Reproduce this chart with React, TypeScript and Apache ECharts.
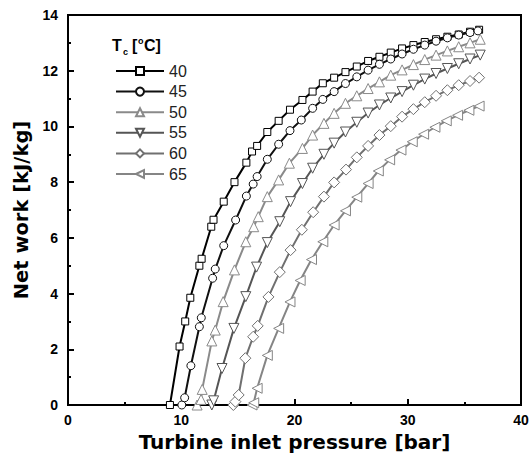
import React, { useEffect, useRef } from "react";
import * as echarts from "echarts";

// Turbine inlet pressure [bar] and net work [kJ/kg] for each condensing temperature T_c
const P40 = [9.0, 9.85, 10.35, 10.8, 11.6, 11.8, 12.65, 12.85, 13.75, 14.7, 15.75, 16.25, 16.7, 17.6, 18.6, 19.6, 20.7, 21.6, 22.5, 23.5, 24.5, 25.5, 26.5, 27.5, 28.5, 29.5, 30.5, 31.5, 32.5, 33.5, 34.5, 35.5, 36.3];
const W40 = [0, 2.1, 3.0, 3.85, 5.0, 5.25, 6.4, 6.65, 7.3, 8.0, 8.7, 9.1, 9.3, 9.8, 10.2, 10.6, 10.95, 11.25, 11.55, 11.75, 11.95, 12.15, 12.35, 12.5, 12.65, 12.8, 12.92, 13.03, 13.13, 13.22, 13.3, 13.4, 13.47];

const P45 = [10.05, 10.3, 10.85, 11.6, 11.77, 12.77, 13.0, 13.75, 14.8, 15.75, 16.35, 16.7, 17.6, 18.6, 19.6, 20.6, 21.6, 22.5, 23.5, 24.5, 25.5, 26.5, 27.5, 28.5, 29.5, 30.5, 31.5, 32.5, 33.5, 34.5, 35.5, 36.2];
const W45 = [0, 0.26, 1.41, 2.81, 3.13, 4.55, 4.88, 5.72, 6.64, 7.5, 7.93, 8.2, 8.82, 9.36, 9.85, 10.23, 10.65, 10.97, 11.25, 11.54, 11.78, 12.02, 12.23, 12.42, 12.6, 12.77, 12.92, 13.06, 13.18, 13.28, 13.37, 13.43];

const P50 = [11.4, 11.75, 11.85, 12.7, 13.0, 13.7, 14.7, 15.7, 16.4, 16.8, 17.6, 18.6, 19.55, 20.7, 21.6, 22.6, 23.5, 24.5, 25.5, 26.5, 27.5, 28.5, 29.5, 30.5, 31.5, 32.5, 33.5, 34.5, 35.5, 36.4];
const W50 = [0, 0.2, 0.56, 2.3, 2.69, 3.71, 4.85, 5.86, 6.4, 6.76, 7.48, 8.08, 8.68, 9.21, 9.69, 10.11, 10.47, 10.83, 11.1, 11.36, 11.6, 11.84, 12.03, 12.22, 12.4, 12.56, 12.71, 12.86, 13.0, 13.13];

const P55 = [12.7, 12.86, 13.6, 14.65, 15.7, 16.65, 17.6, 18.7, 19.65, 20.7, 21.6, 22.6, 23.5, 24.5, 25.5, 26.5, 27.5, 28.5, 29.5, 30.5, 31.5, 32.5, 33.5, 34.5, 35.5, 36.4];
const W55 = [0, 0.15, 1.31, 2.75, 3.89, 4.95, 5.83, 6.58, 7.3, 7.95, 8.5, 9.0, 9.4, 9.8, 10.15, 10.48, 10.77, 11.02, 11.25, 11.48, 11.7, 11.9, 12.08, 12.25, 12.42, 12.56];

const P60 = [14.6, 14.78, 15.07, 15.66, 16.35, 16.75, 17.7, 18.7, 19.65, 20.65, 21.65, 22.6, 23.5, 24.55, 25.5, 26.5, 27.5, 28.5, 29.5, 30.5, 31.5, 32.5, 33.5, 34.5, 35.5, 36.3];
const W60 = [0, 0.12, 0.36, 1.68, 2.45, 2.84, 3.88, 4.77, 5.56, 6.29, 6.92, 7.48, 7.99, 8.45, 8.89, 9.3, 9.69, 10.01, 10.35, 10.62, 10.87, 11.1, 11.3, 11.48, 11.63, 11.75];

const P65 = [16.25, 16.4, 16.7, 17.6, 18.6, 19.6, 20.5, 21.5, 22.5, 23.5, 24.5, 25.5, 26.5, 27.4, 28.4, 29.4, 30.4, 31.4, 32.4, 33.4, 34.4, 35.4, 36.3];
const W65 = [0, 0.08, 0.6, 1.78, 2.75, 3.7, 4.47, 5.22, 5.86, 6.46, 6.97, 7.46, 7.95, 8.4, 8.8, 9.15, 9.45, 9.72, 9.97, 10.2, 10.4, 10.58, 10.73];

const X_TICKS = [0, 10, 20, 30, 40];
const Y_TICKS = [0, 2, 4, 6, 8, 10, 12, 14];

const FONT = "'Liberation Sans', Arial, sans-serif";
const TITLE_FONT = "'DejaVu Sans', Verdana, sans-serif";

type Curve = {
  name: string;
  p: number[];
  w: number[];
  color: string;
  symbol: string;
  size: number;
  rotate: number;
};

const CURVES: Curve[] = [
  { name: "40", p: P40, w: W40, color: "#000000", symbol: "rect", size: 7, rotate: 0 },
  { name: "45", p: P45, w: W45, color: "#101010", symbol: "circle", size: 8, rotate: 0 },
  { name: "50", p: P50, w: W50, color: "#8a8a8a", symbol: "triangle", size: 10, rotate: 0 },
  { name: "55", p: P55, w: W55, color: "#555555", symbol: "triangle", size: 10, rotate: 180 },
  { name: "60", p: P60, w: W60, color: "#707070", symbol: "diamond", size: 11, rotate: 0 },
  { name: "65", p: P65, w: W65, color: "#858585", symbol: "triangle", size: 10, rotate: 90 },
];

export default function App() {
  const ref = useRef<HTMLDivElement>(null);

  useEffect(() => {
    document.body.style.margin = "0";
    if (!ref.current) return;
    const chart = echarts.init(ref.current, null, { renderer: "svg" });

    const series = CURVES.map((c) => ({
      name: c.name,
      type: "line",
      data: c.p.map((x, i) => [x, c.w[i]]),
      symbol: c.symbol,
      symbolSize: c.size,
      symbolRotate: c.rotate,
      showAllSymbol: true,
      lineStyle: { color: c.color, width: 2 },
      itemStyle: { color: "#ffffff", borderColor: c.color, borderWidth: 1 },
      emphasis: { disabled: true },
      z: 2,
    }));

    chart.setOption({
      animation: false,
      backgroundColor: "#ffffff",
      grid: {
        left: 68,
        right: 11,
        top: 15,
        bottom: 55,
        show: true,
        borderColor: "#000000",
        borderWidth: 2,
        backgroundColor: "transparent",
      },
      legend: {
        orient: "vertical",
        left: 110,
        top: 58,
        itemWidth: 48,
        itemHeight: 10,
        itemGap: 4.6,
        data: CURVES.map((c) => c.name),
        textStyle: { fontFamily: FONT, fontSize: 16, color: "#222222" },
        selectedMode: false,
      },
      xAxis: {
        type: "value",
        min: 0,
        max: 40,
        interval: 10,
        name: "Turbine inlet pressure [bar]",
        nameLocation: "middle",
        nameGap: 24,
        nameTextStyle: { fontFamily: TITLE_FONT, fontSize: 20, fontWeight: "bold", color: "#000" },
        axisLine: { show: true, lineStyle: { color: "#000", width: 2 } },
        axisTick: { show: true, inside: true, length: 6, lineStyle: { color: "#000", width: 2 } },
        minorTick: { show: true, splitNumber: 2, length: 3, lineStyle: { color: "#000", width: 2 } },
        axisLabel: {
          fontFamily: FONT,
          fontSize: 14,
          fontWeight: "bold",
          color: "#000",
          margin: 8,
          formatter: (v: number) => (X_TICKS.includes(v) ? String(v) : ""),
        },
        splitLine: { show: false },
      },
      yAxis: {
        type: "value",
        min: 0,
        max: 14,
        interval: 2,
        name: "Net work [kJ/kg]",
        nameLocation: "middle",
        nameGap: 34,
        nameRotate: 90,
        nameTextStyle: { fontFamily: TITLE_FONT, fontSize: 19.5, fontWeight: "bold", color: "#000" },
        axisLine: { show: true, lineStyle: { color: "#000", width: 2 } },
        axisTick: { show: true, inside: true, length: 6, lineStyle: { color: "#000", width: 2 } },
        minorTick: { show: true, splitNumber: 2, length: 3, lineStyle: { color: "#000", width: 2 } },
        axisLabel: {
          fontFamily: FONT,
          fontSize: 14,
          fontWeight: "bold",
          color: "#000",
          margin: 10,
          formatter: (v: number) => (Y_TICKS.includes(v) ? String(v) : ""),
        },
        splitLine: { show: false },
      },
      graphic: [
        {
          type: "group",
          left: 112,
          top: 36,
          children: [
            { type: "text", x: 0, y: 0, style: { text: "T", font: `bold 16px ${FONT}`, fill: "#000" } },
            { type: "text", x: 11, y: 10, style: { text: "c", font: `bold 9px ${FONT}`, fill: "#000" } },
            { type: "text", x: 20, y: 0, style: { text: "[", font: `bold 16px ${FONT}`, fill: "#000" } },
            { type: "text", x: 26, y: -1, style: { text: "o", font: `bold 9px ${FONT}`, fill: "#000" } },
            { type: "text", x: 32, y: 0, style: { text: "C]", font: `bold 16px ${FONT}`, fill: "#000" } },
          ],
        },
      ],
      series,
    });

    return () => chart.dispose();
  }, []);

  return <div ref={ref} style={{ width: 532, height: 460 }} />;
}
